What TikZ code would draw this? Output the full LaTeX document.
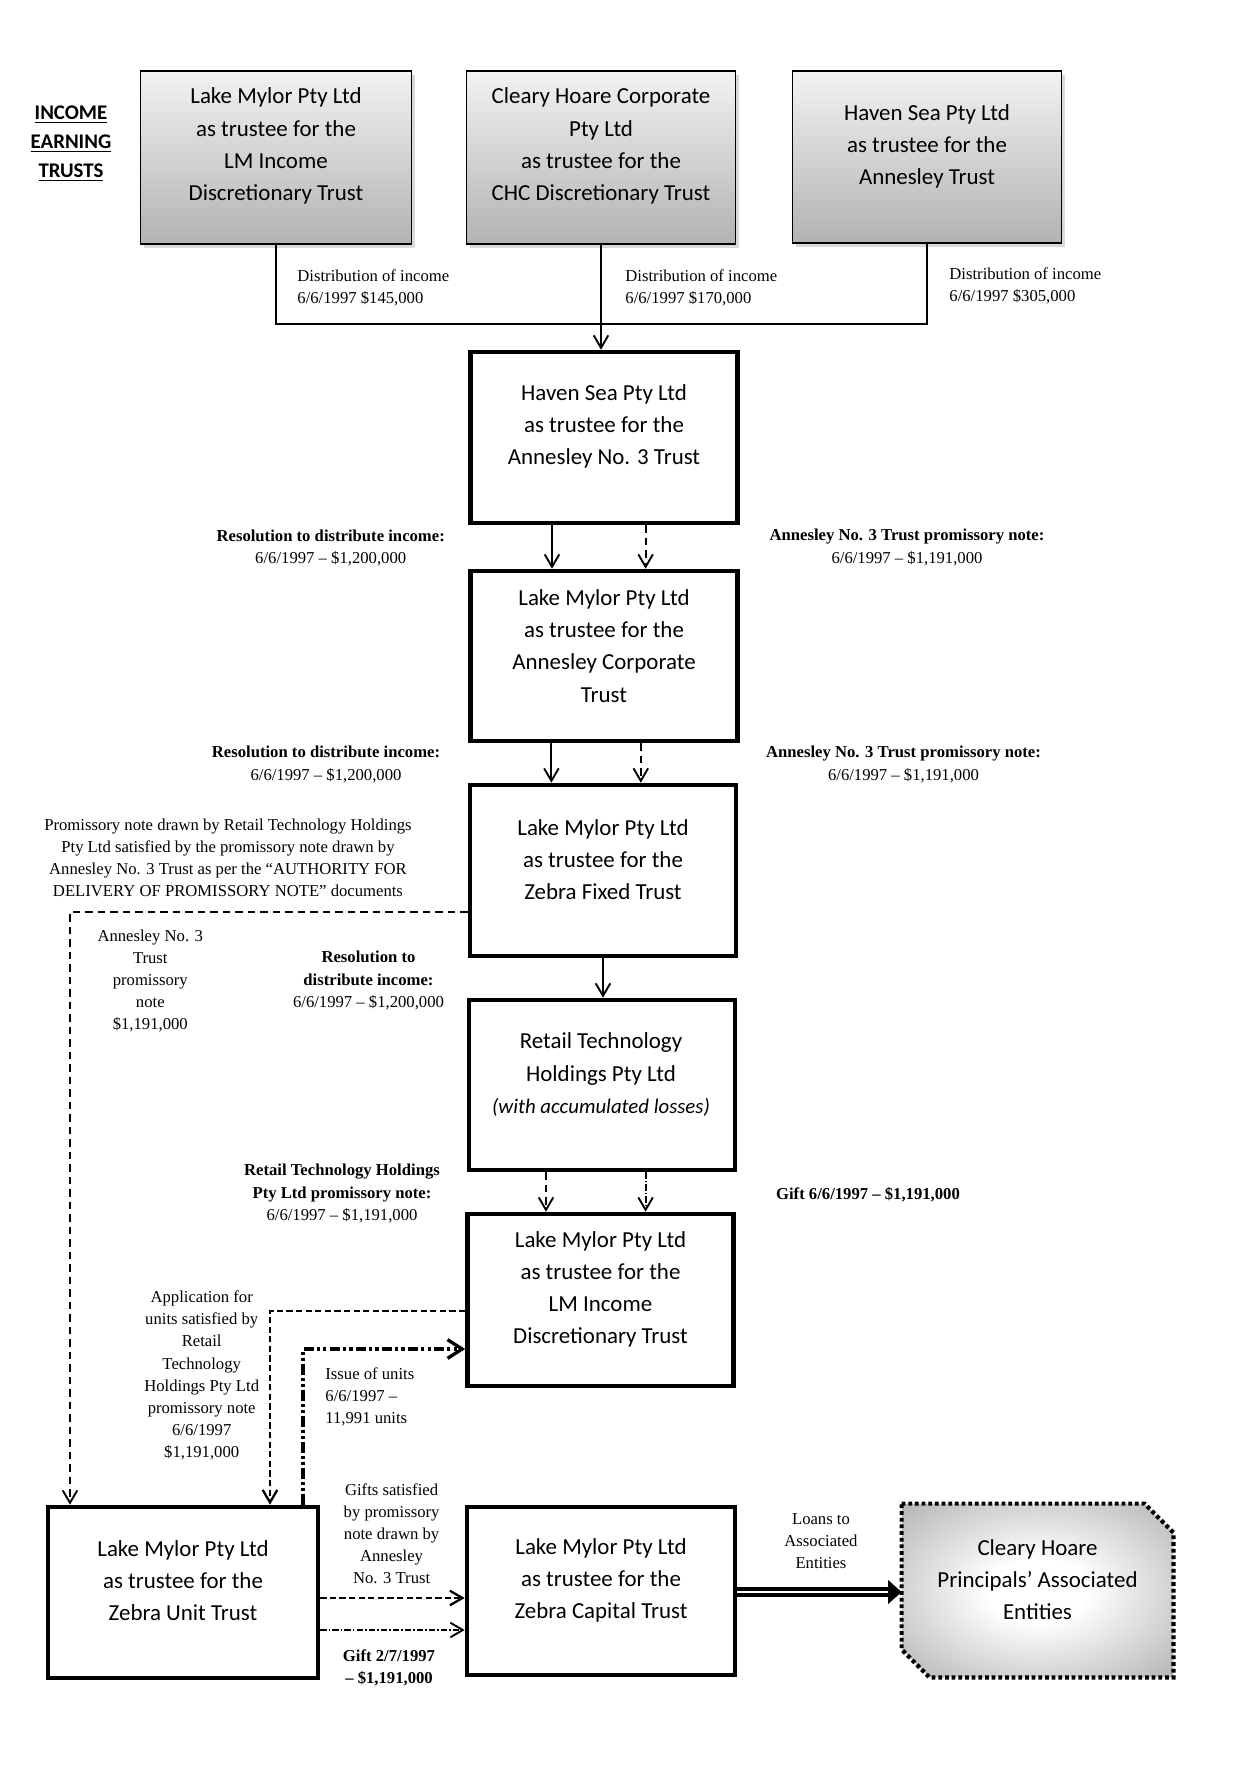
\documentclass[tikz,border=0pt]{standalone}
\usepackage{fontspec}
\setmainfont{Liberation Serif}
\newfontfamily\calfont{Carlito}
\usetikzlibrary{arrows.meta,shadows,calc}
\pgfdeclareradialshading{entshade}{\pgfpoint{0bp}{0bp}}{color(0bp)=(white);color(9bp)=(white);color(36bp)=(black!30);color(50bp)=(black!50)}
\begin{document}
\begin{tikzpicture}[x=0.48pt,y=-0.48pt,
  topbox/.style={draw, line width=0.9pt, top color=black!5, bottom color=black!30,
    drop shadow={shadow xshift=1.5pt, shadow yshift=-1.8pt, opacity=0.3}, inner sep=0pt},
  mainbox/.style={draw, line width=2.2pt, fill=white, inner sep=0pt},
  boxtxt/.style={font=\calfont\fontsize{11pt}{15.4pt}\selectfont, align=center, inner sep=0pt},
  lbl/.style={font=\fontsize{8pt}{10.6pt}\selectfont, align=center, inner sep=0pt},
  lbll/.style={lbl, align=left, anchor=west},
  conn/.style={line width=0.9pt},
  arr/.style={conn, -{Straight Barb[length=6pt,width=7pt]}},
  dsh/.style={dash pattern=on 3.5pt off 2.5pt},
  sdsh/.style={line width=1.1pt, dash pattern=on 3pt off 1.6pt},
  dshdot/.style={dash pattern=on 3pt off 1pt on 0.8pt off 1pt},
  dshdotdot/.style={line width=1.6pt, dash pattern=on 5pt off 1.5pt on 1.5pt off 1.5pt on 1.5pt off 1.5pt},
  dbl/.style={double, double distance=1.2pt, line width=1.8pt}
]
\useasboundingbox (0,0) rectangle (1241,1766);

% ---- top boxes
\node[topbox, minimum width=271*0.48pt, minimum height=173*0.48pt] (b1) at (276,157.5) {};
\node[topbox, minimum width=269*0.48pt, minimum height=173*0.48pt] (b2) at (601,157.5) {};
\node[topbox, minimum width=269*0.48pt, minimum height=172*0.48pt] (b3) at (927,157) {};
\node[boxtxt] (t1) at (276,146) {Lake Mylor Pty Ltd\\as trustee for the\\LM Income\\Discretionary Trust};
\node[boxtxt] (t2) at (601,146) {Cleary Hoare Corporate\\Pty Ltd\\as trustee for the\\CHC Discretionary Trust};
\node[boxtxt] (t3) at (927,146) {Haven Sea Pty Ltd\\as trustee for the\\Annesley Trust};

\node[font=\calfont\bfseries\fontsize{10pt}{13.9pt}\selectfont, align=center, inner sep=0pt] (inc) at (71,144)
  {\underline{INCOME}\\\underline{EARNING}\\\underline{TRUSTS}};

% ---- main column
\node[mainbox, minimum width=267*0.48pt, minimum height=171*0.48pt] (b4) at (604,437.5) {};
\node[mainbox, minimum width=267*0.48pt, minimum height=170*0.48pt] (b5) at (604,656) {};
\node[mainbox, minimum width=266*0.48pt, minimum height=171*0.48pt] (b6) at (603,870.5) {};
\node[mainbox, minimum width=266*0.48pt, minimum height=170*0.48pt] (b7) at (602,1085) {};
\node[mainbox, minimum width=266*0.48pt, minimum height=172*0.48pt] (b8) at (600.5,1300) {};
\node[mainbox, minimum width=270*0.48pt, minimum height=171*0.48pt] (b9) at (183,1592.5) {};
\node[mainbox, minimum width=268*0.48pt, minimum height=168*0.48pt] (b10) at (601,1591) {};

\node[boxtxt] (t4) at (604,426) {Haven Sea Pty Ltd\\as trustee for the\\Annesley No. 3 Trust};
\node[boxtxt] (t5) at (604,646) {Lake Mylor Pty Ltd\\as trustee for the\\Annesley Corporate\\Trust};
\node[boxtxt] (t6) at (603,859.5) {Lake Mylor Pty Ltd\\as trustee for the\\Zebra Fixed Trust};
\node[boxtxt] (t7) at (601,1074.5) {Retail Technology\\Holdings Pty Ltd\\{\fontsize{10pt}{15pt}\selectfont\itshape (with accumulated losses)}};
\node[boxtxt] (t8) at (600.5,1289) {Lake Mylor Pty Ltd\\as trustee for the\\LM Income\\Discretionary Trust};
\node[boxtxt] (t9) at (183,1581) {Lake Mylor Pty Ltd\\as trustee for the\\Zebra Unit Trust};
\node[boxtxt] (t10) at (601,1580) {Lake Mylor Pty Ltd\\as trustee for the\\Zebra Capital Trust};

% ---- associated entities box
\node[inner sep=0pt, minimum width=271*0.48pt, minimum height=173*0.48pt] (b11) at (1037.5,1590.5) {};
\path[shade, shading=entshade, draw=black, line width=2pt, dash pattern=on 1.8pt off 1.4pt]
  (b11.north west) -- ($(b11.north east)+(-29,0)$) -- ($(b11.north east)+(0,29)$)
  -- (b11.south east) -- ($(b11.south west)+(28,0)$) -- ($(b11.south west)+(0,-28)$) -- cycle;
\node[boxtxt] (t11) at (1037.5,1580) {Cleary Hoare\\Principals’ Associated\\Entities};

% ---- connectors
\coordinate (yt) at (0,324);
\draw[conn] (b1.south) |- (b3.south |- yt) -- (b3.south);
\draw[arr] (b2.south) -- (b2.south |- b4.north);

\coordinate (xa1) at (552,0); \coordinate (xa2) at (645.6,0);
\draw[arr] (b4.south -| xa1) -- (b5.north -| xa1);
\draw[arr, dsh] (b4.south -| xa2) -- (b5.north -| xa2);

\coordinate (xb1) at (551.4,0); \coordinate (xb2) at (640.8,0);
\draw[arr] (b5.south -| xb1) -- (b6.north -| xb1);
\draw[arr, dsh] (b5.south -| xb2) -- (b6.north -| xb2);

\draw[arr] (b6.south) -- (b6.south |- b7.north);

\coordinate (xc1) at (546,0); \coordinate (xc2) at (645.6,0);
\draw[arr, dsh] (b7.south -| xc1) -- (b8.north -| xc1);
\draw[arr, dshdot] (b7.south -| xc2) -- (b8.north -| xc2);

\coordinate (c6) at (70,912);
\draw[arr, dsh] (b6.west |- c6) -| (b9.north -| c6);

\coordinate (c8) at (270,1311);
\draw[arr, sdsh] (b8.west |- c8) -| (b9.north -| c8);

\coordinate (cdd) at (303,1349);
\draw[dshdotdot, -{Straight Barb[length=7pt,width=9pt]}] (b9.north -| cdd) |- (b8.west |- cdd);

\coordinate (y1) at (0,1598); \coordinate (y2) at (0,1630);
\draw[arr, sdsh] (b9.east |- y1) -- (b10.west |- y1);
\draw[arr, dshdot] (b9.east |- y2) -- (b10.west |- y2);

\coordinate (yd) at (0,1592);
\draw[dbl, shorten >=6pt] (b10.east |- yd) -- (b11.west |- yd);
\draw[line width=0.5pt, -{Triangle[length=6.5pt,width=11.5pt]}] ($(b11.west |- yd)+(-14,0)$) -- (b11.west |- yd);

% ---- labels
\node[lbll] (d1) at (297,287.5) {Distribution of income\\6/6/1997 \$145,000};
\node[lbll] (d2) at (625,287.5) {Distribution of income\\6/6/1997 \$170,000};
\node[lbll] (d3) at (949,286) {Distribution of income\\6/6/1997 \$305,000};

\node[lbl] (r1l) at (330.7,548) {\textbf{Resolution to distribute income:}\\6/6/1997 – \$1,200,000};
\node[lbl] (r1r) at (907,547.5) {\textbf{Annesley No. 3 Trust promissory note:}\\6/6/1997 – \$1,191,000};
\node[lbl] (r2l) at (326,764.5) {\textbf{Resolution to distribute income:}\\6/6/1997 – \$1,200,000};
\node[lbl] (r2r) at (903.5,764.5) {\textbf{Annesley No. 3 Trust promissory note:}\\6/6/1997 – \$1,191,000};

\node[lbl] (note) at (228,857.5) {Promissory note drawn by Retail Technology Holdings\\Pty Ltd satisfied by the promissory note drawn by\\Annesley No. 3 Trust as per the “AUTHORITY FOR\\DELIVERY OF PROMISSORY NOTE” documents};
\node[lbl] (ann3) at (150.3,981) {Annesley No. 3\\Trust\\promissory\\note\\\$1,191,000};
\node[lbl] (r3) at (368.5,980.5) {\textbf{Resolution to}\\\textbf{distribute income:}\\6/6/1997 – \$1,200,000};
\node[lbl] (r4) at (342,1193.5) {\textbf{Retail Technology Holdings}\\\textbf{Pty Ltd promissory note:}\\6/6/1997 – \$1,191,000};
\node[lbl] (gift1) at (868,1195) {\textbf{Gift 6/6/1997 – \$1,191,000}};
\node[lbl] (app) at (201.7,1375.5) {Application for\\units satisfied by\\Retail\\Technology\\Holdings Pty Ltd\\promissory note\\6/6/1997\\\$1,191,000};
\node[lbll] (issue) at (325,1397) {Issue of units\\6/6/1997 –\\11,991 units};
\node[lbl] (gifts) at (391.6,1534) {Gifts satisfied\\by promissory\\note drawn by\\Annesley\\No. 3 Trust};
\node[lbl] (gift2) at (389,1667.5) {\textbf{Gift 2/7/1997}\\\textbf{– \$1,191,000}};
\node[lbl] (loans) at (821,1541) {Loans to\\Associated\\Entities};
\end{tikzpicture}
\end{document}
